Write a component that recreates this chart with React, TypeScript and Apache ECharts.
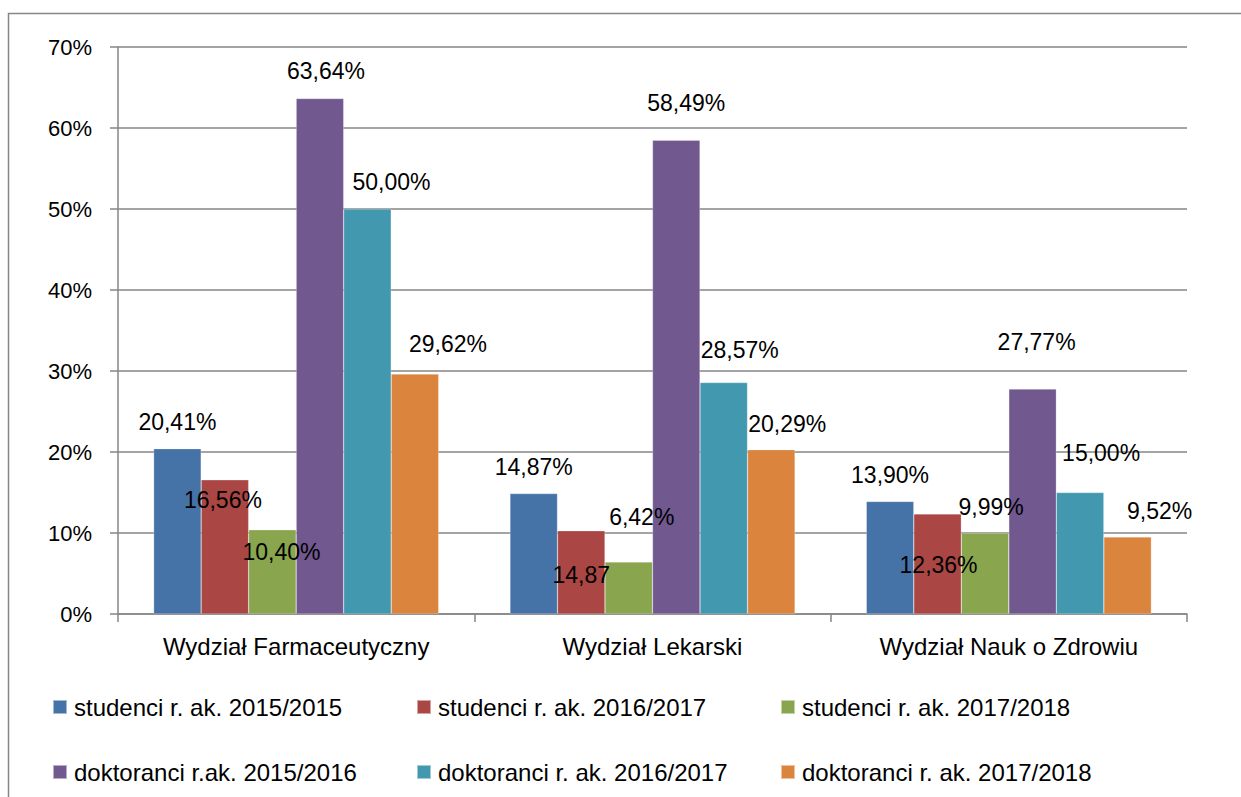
import React, { useEffect, useRef } from "react";
import * as echarts from "echarts";

const categories = ["Wydział Farmaceutyczny", "Wydział Lekarski", "Wydział Nauk o Zdrowiu"];

const seriesNames = [
  "studenci r. ak. 2015/2015",
  "studenci r. ak. 2016/2017",
  "studenci r. ak. 2017/2018",
  "doktoranci r.ak. 2015/2016",
  "doktoranci r. ak. 2016/2017",
  "doktoranci r. ak. 2017/2018",
];

const studenci1516 = [20.41, 14.87, 13.9];
const studenci1617 = [16.56, 10.28, 12.36];
const studenci1718 = [10.4, 6.42, 9.99];
const doktoranci1516 = [63.64, 58.49, 27.77];
const doktoranci1617 = [50.0, 28.57, 15.0];
const doktoranci1718 = [29.62, 20.29, 9.52];

const labelsS1516 = ["20,41%", "14,87%", "13,90%"];
const labelsS1617 = ["16,56%", "14,87", "12,36%"];
const labelsS1718 = ["10,40%", "6,42%", "9,99%"];
const labelsD1516 = ["63,64%", "58,49%", "27,77%"];
const labelsD1617 = ["50,00%", "28,57%", "15,00%"];
const labelsD1718 = ["29,62%", "20,29%", "9,52%"];

const yTicks = [0, 10, 20, 30, 40, 50, 60, 70];

const seriesValues = [studenci1516, studenci1617, studenci1718, doktoranci1516, doktoranci1617, doktoranci1718];
const seriesLabels = [labelsS1516, labelsS1617, labelsS1718, labelsD1516, labelsD1617, labelsD1718];

// label placement (style, relative to bar top)
const labelOffsets: number[][][] = [
  [[0, -27], [0, -27], [0, -26]],
  [[-2, 20], [0, 44], [1, 51]],
  [[9, 22], [13, -45], [6, -26]],
  [[6, -28], [10, -37], [4, -47]],
  [[24, -27], [16, -33], [21, -40]],
  [[33, -30], [16, -26], [32, -26]],
];

const COLORS = ["#4572A7", "#AA4643", "#89A54E", "#71588F", "#4198AF", "#DB843D"];
const FONT = "'Liberation Sans', Arial, sans-serif";
const legendLefts = [52, 416, 780];
const legendTops = [695, 760];

export default function App() {
  const ref = useRef<HTMLDivElement>(null);
  useEffect(() => {
    document.body.style.margin = "0";
    if (!ref.current) return;
    const chart = echarts.init(ref.current, undefined, { renderer: "svg" });
    const series = seriesNames.map((name, i) => ({
      type: "bar",
      name,
      barGap: "0%",
      barCategoryGap: "20%",
      itemStyle: { color: COLORS[i], borderColor: "rgba(255,255,255,0.5)", borderWidth: 0.5 },
      label: {
        show: true,
        position: "top",
        distance: 0,
        align: "center",
        verticalAlign: "middle",
        color: "#000",
        fontSize: 23,
        fontFamily: FONT,
      },
      data: seriesValues[i].map((v, j) => ({
        value: v,
        label: { formatter: seriesLabels[i][j], offset: labelOffsets[i][j] },
      })),
    }));
    const legends = seriesNames.map((name, i) => ({
      data: [name],
      left: legendLefts[i % 3],
      top: legendTops[Math.floor(i / 3)],
      icon: "rect",
      itemWidth: 14,
      itemHeight: 14,
      padding: 0,
      itemGap: 0,
      selectedMode: false,
      textStyle: { fontSize: 24, color: "#000", fontFamily: FONT, padding: [0, 0, 0, 2] },
    }));
    chart.setOption({
      animation: false,
      backgroundColor: "#fff",
      grid: { left: 118, right: 54, top: 47, bottom: 183, containLabel: false },
      xAxis: {
        type: "category",
        data: categories,
        axisLine: { show: true, lineStyle: { color: "#868686", width: 1.5 } },
        axisTick: { show: true, length: 8, lineStyle: { color: "#868686", width: 1.5 } },
        axisLabel: { margin: 20, fontSize: 24, color: "#000", fontFamily: FONT },
      },
      yAxis: {
        type: "value",
        min: yTicks[0],
        max: yTicks[yTicks.length - 1],
        interval: 10,
        axisLine: { show: true, lineStyle: { color: "#868686", width: 1.5 } },
        axisTick: { show: true, length: 8, lineStyle: { color: "#868686", width: 1.5 } },
        splitLine: { show: true, lineStyle: { color: "#868686", width: 1.5 } },
        axisLabel: { margin: 26, fontSize: 22, color: "#000", fontFamily: FONT, formatter: "{value}%" },
      },
      legend: legends,
      series,
      graphic: [
        {
          type: "rect",
          silent: true,
          z: 100,
          shape: { x: 8.5, y: 13.5, width: 1400, height: 1000 },
          style: { fill: "none", stroke: "#868686", lineWidth: 1.5 },
        },
      ],
    });
    return () => chart.dispose();
  }, []);
  return <div ref={ref} style={{ width: 1241, height: 797 }} />;
}
